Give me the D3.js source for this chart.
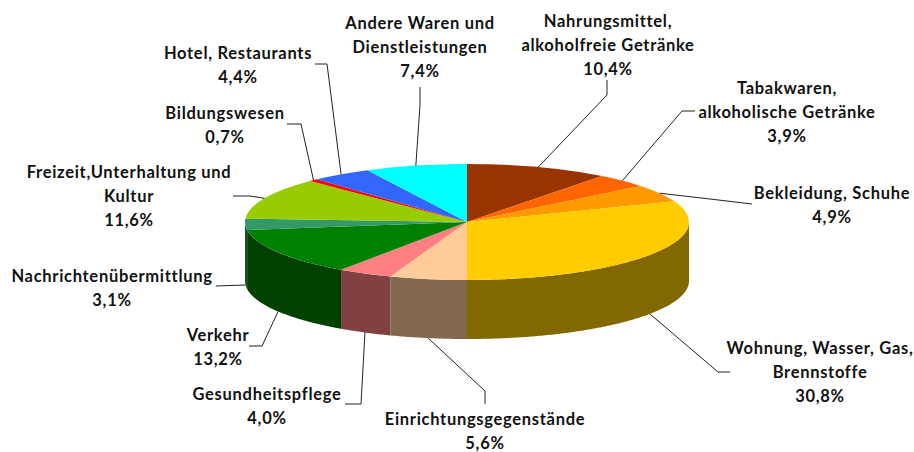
<html>

<head>
    <style>
        body { margin: 0; background: #fff; }
        text { font-family: Lato, sans-serif; font-weight: 700; font-size: 16.5px; letter-spacing: 0.7px; fill: #111; text-anchor: middle; }
    </style>
</head>

<body>
    <svg id="chart" width="914" height="452">
        <g id="sides"></g>
        <g id="tops"></g>
        <g id="leaders"></g>
        <g id="labels"></g>
    </svg>
</body>
<script src="https://d3js.org/d3.v7.min.js"></script>
<script>
    const categories = [
        "Nahrungsmittel,|alkoholfreie Getränke",
        "Tabakwaren,|alkoholische Getränke",
        "Bekleidung, Schuhe",
        "Wohnung, Wasser, Gas,|Brennstoffe",
        "Einrichtungsgegenstände",
        "Gesundheitspflege",
        "Verkehr",
        "Nachrichtenübermittlung",
        "Freizeit,Unterhaltung und|Kultur",
        "Bildungswesen",
        "Hotel, Restaurants",
        "Andere Waren und|Dienstleistungen"
    ]
    const values = [10.4, 3.9, 4.9, 30.8, 5.6, 4.0, 13.2, 3.1, 11.6, 0.7, 4.4, 7.4]
    const colors = ["#993300", "#ff6600", "#ff9900", "#ffcc00", "#ffcc99", "#ff8080",
        "#008000", "#339966", "#99cc00", "#ff0000", "#3366ff", "#00ffff"]

    // label centre x and y of the first line
    const labelPos = [[608, 22], [787, 89], [832, 194], [820, 349], [485, 420], [267, 395],
        [218, 336], [112, 277], [129, 173], [225, 114], [238, 54], [420, 24]]
    // leader line points, from the label towards the pie
    const leaderPos = [
        [[607, 80], [607, 95]],
        [[695, 111], [682, 111]],
        [[752, 204], [710, 199]],
        [[730, 372], [718, 372]],
        [[485, 404], [485, 391]],
        [[345, 404], [361, 404]],
        [[249, 346], [262, 346]],
        [[216, 286]],
        [[233, 196], [250, 196]],
        [[287, 124], [301, 124]],
        [[315, 64], [327, 64]],
        [[420, 87], [420, 105]]
    ]

    const cx = 467, cy = 222, rx = 222, ry = 58, depth = 59

    const x = d3.scaleLinear().domain([-1, 1]).range([cx - rx, cx + rx])
    const y = d3.scaleLinear().domain([-1, 1]).range([cy - ry, cy + ry])

    const slices = d3.pie().sort(null)(values)

    let arc = d3.arc().innerRadius(0).outerRadius(rx)

    // top face is a normal arc squashed into an ellipse
    d3.select("#tops")
        .attr("transform", `translate(${cx},${cy}) scale(1,${ry / rx})`)
        .selectAll("path")
        .data(slices)
        .join("path")
        .attr("d", arc)
        .attr("fill", (d, i) => colors[i])

    // side wall, only the front half of the ellipse (90 to 270 deg)
    let rim = d3.line().x(a => x(Math.sin(a))).y(a => y(-Math.cos(a)))

    function sidePath(d) {
        let a0 = Math.max(d.startAngle, Math.PI / 2)
        let a1 = Math.min(d.endAngle, Math.PI * 1.5)
        if (a1 <= a0) return null
        let steps = d3.range(a0, a1, 0.01).concat([a1])
        let upper = rim(steps)
        let lower = rim(steps.slice().reverse()).replace(/[ML]([^,]+),([\d.]+)/g,
            (m, px, py) => `L${px},${+py + depth}`)
        return upper + lower + "Z"
    }

    d3.select("#sides")
        .selectAll("path")
        .data(slices)
        .join("path")
        .attr("d", sidePath)
        .attr("fill", (d, i) => d3.interpolateRgb(colors[i], "#000")(0.49))

    // leaders end at the middle of the slice, on the wall if it is in front
    function anchor(d) {
        let mid = (d.startAngle + d.endAngle) / 2
        let front = mid > Math.PI / 2 && mid < Math.PI * 1.5
        // slice running past the left edge: use the part that still has a wall
        if (front) mid = (d.startAngle + Math.min(d.endAngle, Math.PI * 1.5)) / 2
        return [x(Math.sin(mid)), y(-Math.cos(mid)) + (front ? depth : 0)]
    }

    d3.select("#leaders")
        .selectAll("path")
        .data(slices)
        .join("path")
        .attr("d", (d, i) => d3.line()(leaderPos[i].concat([anchor(d)])))
        .attr("fill", "none")
        .attr("stroke", "#222")
        .attr("stroke-width", 1)

    let labels = d3.select("#labels")
        .selectAll("text")
        .data(categories)
        .join("text")
        .attr("transform", (d, i) => `translate(${labelPos[i][0]},${labelPos[i][1] + 5})`)

    labels.selectAll("tspan")
        .data((d, i) => d.split("|").concat([String(values[i].toFixed(1)).replace(".", ",") + "%"]))
        .join("tspan")
        .attr("x", 0)
        .attr("dy", (d, i) => i ? 24 : 0)
        .text(d => d)
</script>

</html>
